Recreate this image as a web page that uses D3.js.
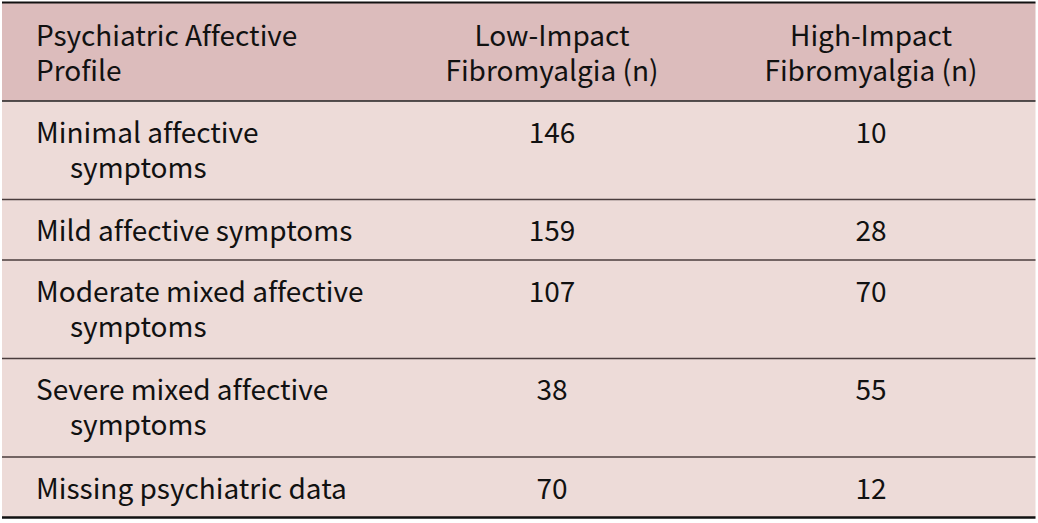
<!DOCTYPE html>
<html><head><meta charset="utf-8">
<script src="https://cdn.jsdelivr.net/npm/d3@7"></script>
<style>
html,body{margin:0;padding:0;background:#fff;}
svg{display:block;}
text{font-family:"Noto Sans CJK JP","Noto Sans",sans-serif;font-size:28px;fill:#111;font-variant-ligatures:none;font-feature-settings:"liga" 0;}
</style></head><body>
<svg id="c" width="1038" height="523"></svg>
<script>
// ---- data ----
const headers = [["Psychiatric Affective","Profile"],["Low-Impact","Fibromyalgia (n)"],["High-Impact","Fibromyalgia (n)"]];
const profiles = [
  ["Minimal affective","symptoms"],
  ["Mild affective symptoms"],
  ["Moderate mixed affective","symptoms"],
  ["Severe mixed affective","symptoms"],
  ["Missing psychiatric data"]
];
const lowImpact = [146,159,107,38,70];
const highImpact = [10,28,70,55,12];

// ---- layout ----
(function(){
const svg = d3.select("#c");
const x0 = 2, x1 = 1035.5, y0 = 2.5;
const baseH = 60.5, extraH = 38, lineGap = 35;
const rows = [{lines: headers, header: true}].concat(profiles.map((p,i)=>({lines:[p,[String(lowImpact[i])],[String(highImpact[i])]], header:false})));
let y = y0;
rows.forEach(r=>{
  const n = d3.max(r.lines, l=>l.length);
  r.y = y; r.h = baseH + (n-1)*extraH; y += r.h;
});
const colX = d3.scaleOrdinal().domain([0,1,2]).range([36,552,871]);
const anchor = ["start","middle","middle"];

const g = svg.append("g");
g.selectAll("rect.bg").data(rows).join("rect")
  .attr("x", x0).attr("y", d=>d.y).attr("width", x1-x0).attr("height", d=>d.h)
  .attr("fill", d=>d.header ? "#dcbcbc" : "#eddbd8");

rows.forEach(r=>{
  const fb = r.header ? 43.5 : 41.5;
  r.lines.forEach((cell,ci)=>{
    cell.forEach((line,li)=>{
      g.append("text")
        .attr("x", colX(ci) + (ci===0 && li>0 && !r.header ? 34 : 0))
        .attr("y", r.y + fb + li*lineGap)
        .attr("text-anchor", anchor[ci])
        .text(line);
    });
  });
});

const seps = rows.slice(1).map(r=>r.y);
g.selectAll("line.sep").data(seps).join("line")
  .attr("x1", x0).attr("x2", x1).attr("y1", d=>d).attr("y2", d=>d)
  .attr("stroke", d=>d===seps[0] ? "#222" : "#4a3c3c").attr("stroke-width", 1.5);
g.append("line").attr("x1",x0).attr("x2",x1).attr("y1",y0).attr("y2",y0).attr("stroke","#111").attr("stroke-width",2);
g.append("line").attr("x1",x0).attr("x2",x1).attr("y1",y).attr("y2",y).attr("stroke","#111").attr("stroke-width",2.5);
})();
</script></body></html>
